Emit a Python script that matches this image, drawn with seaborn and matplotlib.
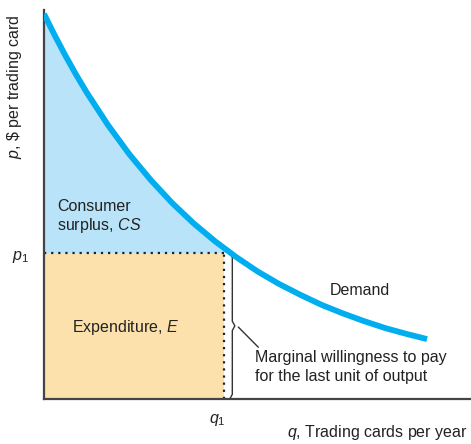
import numpy as np
import pandas as pd
import matplotlib
matplotlib.use('Agg')
import matplotlib.pyplot as plt
import seaborn as sns

# Demand curve (q = cards per year, p = $ per card, arbitrary units)
quantity = [0.00, 0.25, 0.50, 0.75, 1.00, 1.50, 2.00, 2.50, 3.00, 3.50,
            4.00, 4.50, 5.00, 5.50, 6.00, 6.50, 7.00, 7.50, 8.00, 8.50, 8.97]
price = [9.90, 9.35, 8.83, 8.34, 7.88, 7.04, 6.29, 5.63, 5.04, 4.52,
         4.06, 3.65, 3.28, 2.96, 2.68, 2.42, 2.20, 2.00, 1.82, 1.67, 1.54]

# Market outcome
q1 = 4.22
p1 = 3.76

df = pd.DataFrame({'q': quantity, 'p': price})

sns.set_style('white')
plt.rcParams['font.family'] = ['Liberation Sans', 'DejaVu Sans']
plt.rcParams['mathtext.fontset'] = 'custom'
plt.rcParams['mathtext.rm'] = 'Liberation Sans'
plt.rcParams['mathtext.it'] = 'Liberation Sans:italic'

fig = plt.figure(figsize=(4.71, 4.44), dpi=100)
ax = fig.add_axes([44 / 471, 45 / 444, 427 / 471, 389 / 444])
ax.set_xlim(0, 10)
ax.set_ylim(0, 10)

blue = '#00AEEF'
cs_fill = '#B9E3F8'
exp_fill = '#FDE1AC'
fs = 11.5

# Consumer surplus (under demand, above p1)
q_arr = np.array(quantity)
p_arr = np.array(price)
ax.fill_between(q_arr, p_arr, p1, where=p_arr >= p1 - 0.3, interpolate=True,
                color=cs_fill, lw=0, zorder=1)
# Expenditure rectangle
ax.fill_between([0, q1], [p1, p1], 0, color=exp_fill, lw=0, zorder=1)
# keep blue only above p1
ax.fill_between([q1, q1 + 0.4], [p1, p1], 0, color='white', lw=0, zorder=1.5)

# Demand curve
sns.lineplot(data=df, x='q', y='p', color=blue, lw=4.2, ax=ax, zorder=3,
             solid_capstyle='butt')

# Dotted guides
ax.plot([0, q1], [p1, p1], color='#222222', ls=(0, (1, 2.2)), lw=1.6, zorder=2)
ax.plot([q1, q1], [0, p1], color='#222222', ls=(0, (1, 2.2)), lw=1.6, zorder=2)

# Brace next to q1 spanning 0..p1
bx = q1 + 0.13
d = 0.06
e = 0.12
mid = p1 / 2
ax.plot([bx, bx + d, bx + d, bx + 2 * d, bx + d, bx + d, bx],
        [0, e, mid - e, mid, mid + e, p1 - e, p1],
        color='#333333', lw=1.0, zorder=2, solid_joinstyle='round')
ax.plot([bx + 2 * d + 0.08, bx + 2 * d + 0.55], [mid - 0.03, mid - 0.55],
        color='#333333', lw=1.0)

# Labels inside the chart
ax.text(0.30, 4.83, 'Consumer', fontsize=fs, color='#222222', va='baseline')
ax.text(0.30, 4.34, 'surplus, $CS$', fontsize=fs, color='#222222', va='baseline')
ax.text(1.92, 1.85, 'Expenditure, $E$', fontsize=fs, color='#222222',
        ha='center', va='center')
ax.text(7.40, 2.78, 'Demand', fontsize=fs, color='#222222', ha='center', va='center')
ax.text(4.94, 0.95, 'Marginal willingness to pay', fontsize=fs, color='#222222',
        va='baseline')
ax.text(4.94, 0.46, 'for the last unit of output', fontsize=fs, color='#222222',
        va='baseline')

# Axis labels
ax.text(-0.55, p1 - 0.12, '$p_1$', fontsize=fs, color='#222222', ha='center',
        va='center', clip_on=False)
ax.text(q1 - 0.15, -0.55, '$q_1$', fontsize=fs, color='#222222', ha='center',
        va='center', clip_on=False)
ax.text(9.93, -0.86, '$q$, Trading cards per year', fontsize=fs, color='#222222',
        ha='right', va='center', clip_on=False)
ax.text(-0.68, 8.02, r'$p$, \$ per trading card', fontsize=fs, color='#222222',
        ha='center', va='center', rotation=90, clip_on=False)

ax.set_xlabel('')
ax.set_ylabel('')
ax.set_xticks([])
ax.set_yticks([])
sns.despine(ax=ax)
for side in ['left', 'bottom']:
    ax.spines[side].set_color('#444444')
    ax.spines[side].set_linewidth(1.6)

fig.savefig('out.png', dpi=100)
